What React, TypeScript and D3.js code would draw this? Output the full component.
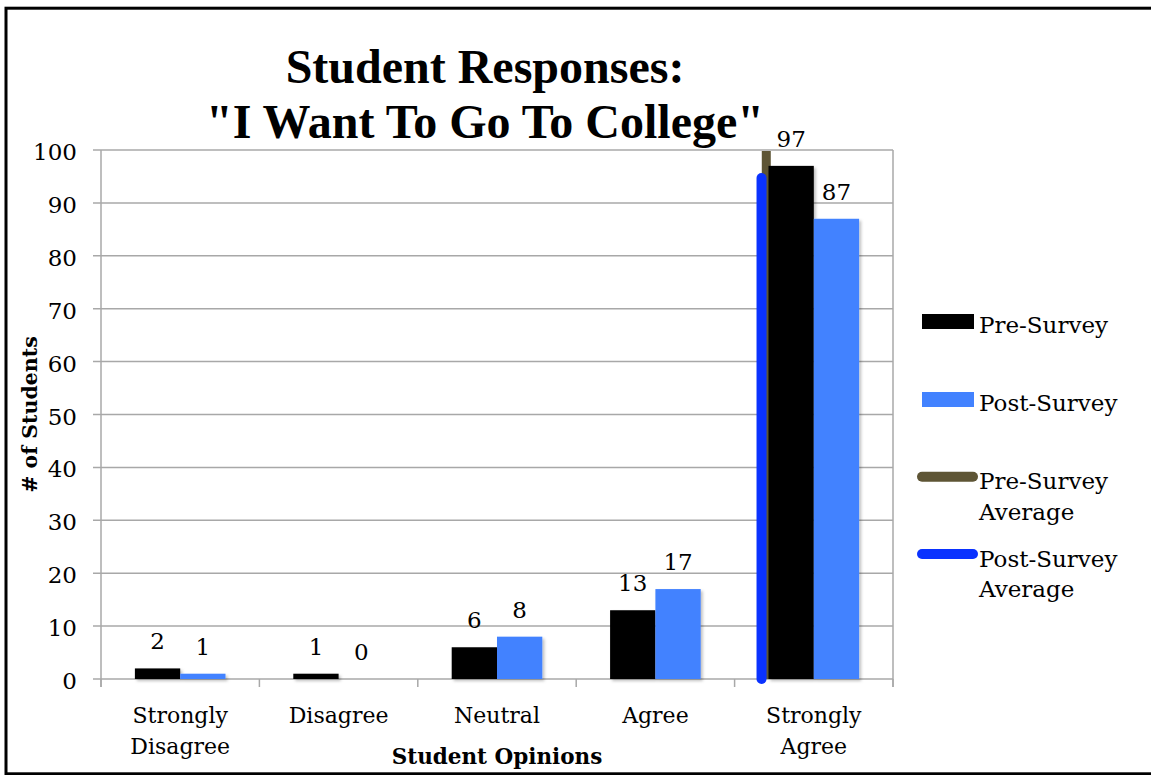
import React from "react";
import * as d3 from "d3";

const categories = ["Strongly Disagree", "Disagree", "Neutral", "Agree", "Strongly Agree"];
const categoryLines = [["Strongly", "Disagree"], ["Disagree"], ["Neutral"], ["Agree"], ["Strongly", "Agree"]];
const preSurvey = [2, 1, 6, 13, 97];
const postSurvey = [1, 0, 8, 17, 87];
const seriesNames = ["Pre-Survey", "Post-Survey"];
const averageNames = [["Pre-Survey", "Average"], ["Post-Survey", "Average"]];
const opinionScale = [1, 2, 3, 4, 5];
const preAverage = 4.7;
const postAverage = 4.67;
const preAverageTop = 100;
const postAverageTop = 94.7;
const yTicks = [0, 10, 20, 30, 40, 50, 60, 70, 80, 90, 100];

const W = 1151;
const H = 775;
const plot = { left: 101, right: 893, top: 150, bottom: 679 };
const SERIF = "'DejaVu Serif', serif";
const TITLE = "'Liberation Serif', 'Times New Roman', serif";
const colors = { pre: "#000000", post: "#4282FF", preAvg: "#5E5535", postAvg: "#0A32FF" };
const grid = "#a8a8a8";

export default function App() {
  const x = d3
    .scaleBand<string>()
    .domain(categories)
    .range([plot.left, plot.right])
    .paddingInner(0.428)
    .paddingOuter(0.214);
  const x1 = d3.scaleBand<string>().domain(seriesNames).range([0, x.bandwidth()]);
  const y = d3.scaleLinear().domain([0, 100]).range([plot.bottom, plot.top]);
  const step = x.step();
  const u = d3
    .scaleLinear()
    .domain([opinionScale[0], opinionScale[opinionScale.length - 1]])
    .range([
      (x(categories[0]) as number) + x.bandwidth() / 2,
      (x(categories[categories.length - 1]) as number) + x.bandwidth() / 2,
    ]);
  const boundaries = categories.map((c) => (x(c) as number) + x.bandwidth() / 2 - step / 2);
  boundaries.push(plot.right);

  const series = [
    { name: seriesNames[0], values: preSurvey, color: colors.pre },
    { name: seriesNames[1], values: postSurvey, color: colors.post },
  ];

  const avgLine = d3.line<[number, number]>().x((d) => u(d[0])).y((d) => y(d[1]));

  return (
    <svg
      width={W}
      height={H}
      style={{ position: "absolute", left: 0, top: 0, display: "block", background: "#fff" }}
    >
      <defs>
        <filter id="shadow" x="-20%" y="-20%" width="140%" height="140%">
          <feDropShadow dx="2" dy="2" stdDeviation="1.5" floodColor="#000" floodOpacity="0.25" />
        </filter>
        <clipPath id="plotClip">
          <rect x={0} y={plot.top + 1} width={W} height={H} />
        </clipPath>
      </defs>
      <rect x={0} y={0} width={W} height={H} fill="#fff" />
      {/* frame */}
      <rect x={6} y={8.2} width={W + 20} height={765.6} fill="none" stroke="#000" strokeWidth={3} />

      {/* title */}
      <text x={485} y={83} textAnchor="middle" fontFamily={TITLE} fontWeight="bold" fontSize={48}>
        Student Responses:
      </text>
      <text x={485} y={138} textAnchor="middle" fontFamily={TITLE} fontWeight="bold" fontSize={48}>
        "I Want To Go To College"
      </text>

      {/* gridlines */}
      {yTicks.map((t) => (
        <g key={t}>
          <line x1={plot.left - 8} x2={plot.right} y1={y(t)} y2={y(t)} stroke={grid} strokeWidth={1.5} />
          <text x={77} y={y(t) + 10} textAnchor="end" fontFamily={SERIF} fontSize={23}>
            {t}
          </text>
        </g>
      ))}
      {/* plot sides and category ticks */}
      <line x1={plot.left} x2={plot.left} y1={plot.top} y2={plot.bottom + 8} stroke={grid} strokeWidth={1.5} />
      <line x1={plot.right} x2={plot.right} y1={plot.top} y2={plot.bottom + 8} stroke={grid} strokeWidth={1.5} />
      {boundaries.map((b, i) => (
        <line key={i} x1={b} x2={b} y1={plot.bottom} y2={plot.bottom + 8} stroke={grid} strokeWidth={1.5} />
      ))}

      {/* average lines */}
      <g clipPath="url(#plotClip)">
        <path
          d={avgLine([[preAverage, 0], [preAverage, preAverageTop]]) as string}
          stroke={colors.preAvg}
          strokeWidth={9}
          fill="none"
        />
      </g>
      <path
        d={avgLine([[postAverage, 0], [postAverage, postAverageTop]]) as string}
        stroke={colors.postAvg}
        strokeWidth={10}
        strokeLinecap="round"
        fill="none"
      />

      {/* bars */}
      <g filter="url(#shadow)">
        {series.map((s) =>
          s.values.map((v, i) => (
            <rect
              key={s.name + i}
              x={(x(categories[i]) as number) + (x1(s.name) as number)}
              y={y(v)}
              width={x1.bandwidth()}
              height={y(0) - y(v)}
              fill={s.color}
            />
          ))
        )}
      </g>
      {/* data labels */}
      {series.map((s) =>
        s.values.map((v, i) => (
          <text
            key={"l" + s.name + i}
            x={(x(categories[i]) as number) + (x1(s.name) as number) + x1.bandwidth() / 2}
            y={y(v) - 19}
            textAnchor="middle"
            fontFamily={SERIF}
            fontSize={23}
          >
            {v}
          </text>
        ))
      )}

      {/* category labels */}
      {categoryLines.map((lines, i) => (
        <text
          key={"c" + i}
          x={(x(categories[i]) as number) + x.bandwidth() / 2}
          y={723}
          textAnchor="middle"
          fontFamily={SERIF}
          fontSize={22}
        >
          {lines.map((l, j) => (
            <tspan key={j} x={(x(categories[i]) as number) + x.bandwidth() / 2} dy={j === 0 ? 0 : 31}>
              {l}
            </tspan>
          ))}
        </text>
      ))}

      {/* axis titles */}
      <text
        x={(plot.left + plot.right) / 2}
        y={764}
        textAnchor="middle"
        fontFamily={SERIF}
        fontWeight="bold"
        fontSize={21.5}
      >
        Student Opinions
      </text>
      <text
        transform={`translate(37, ${(plot.top + plot.bottom) / 2}) rotate(-90)`}
        textAnchor="middle"
        fontFamily={SERIF}
        fontWeight="bold"
        fontSize={20.5}
      >
        # of Students
      </text>

      {/* legend */}
      <rect x={922} y={314} width={52} height={15} fill={colors.pre} />
      <text x={979} y={333} fontFamily={SERIF} fontSize={23}>
        {seriesNames[0]}
      </text>
      <rect x={922} y={392} width={52} height={15} fill={colors.post} />
      <text x={979} y={411} fontFamily={SERIF} fontSize={23}>
        {seriesNames[1]}
      </text>
      <line x1={922} x2={973} y1={476.7} y2={476.7} stroke={colors.preAvg} strokeWidth={10} strokeLinecap="round" />
      <text x={979} y={489} fontFamily={SERIF} fontSize={23}>
        <tspan x={979}>{averageNames[0][0]}</tspan>
        <tspan x={979} dy={31}>{averageNames[0][1]}</tspan>
      </text>
      <line x1={922} x2={973} y1={554} y2={554} stroke={colors.postAvg} strokeWidth={10} strokeLinecap="round" />
      <text x={979} y={567} fontFamily={SERIF} fontSize={23}>
        <tspan x={979}>{averageNames[1][0]}</tspan>
        <tspan x={979} dy={30}>{averageNames[1][1]}</tspan>
      </text>
    </svg>
  );
}
